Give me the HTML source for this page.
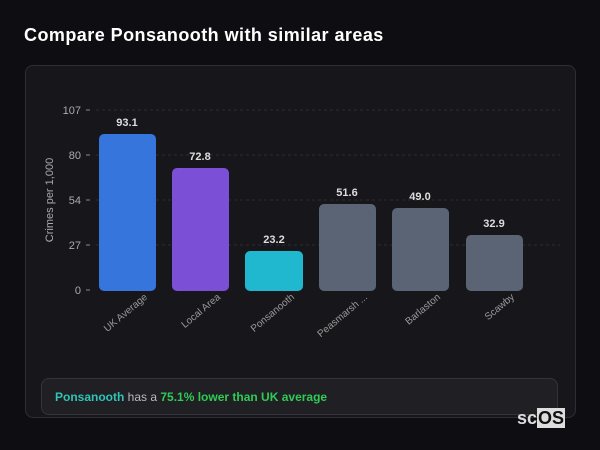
<!DOCTYPE html>
<html><head><style>
body{margin:0;width:600px;height:450px;background:#0e0e12;font-family:"Liberation Sans",sans-serif;overflow:hidden;position:relative}
h1{position:absolute;left:24px;top:25px;margin:0;font-size:18px;color:#fff;font-weight:bold;letter-spacing:0.45px}
.card{position:absolute;left:25px;top:65px;width:549px;height:351px;background:#17171b;border:1px solid #2e2e34;border-radius:8px}
.note{position:absolute;left:41px;top:378px;width:517px;height:37px;background:#1f1f24;border:1px solid #34343a;border-radius:8px;box-sizing:border-box;font-size:12px;line-height:37px;padding-left:13px;color:#bbb}
.note b{font-weight:bold}
.logo{position:absolute;left:517px;top:408px;font-size:18px;color:#ddd;font-weight:bold}
.logo span{background:#ddd;color:#111;padding:0 1px}
</style></head><body>
<h1>Compare Ponsanooth with similar areas</h1>
<div class="card"></div>
<svg width="600" height="450" style="position:absolute;left:0;top:0" font-family="Liberation Sans, sans-serif">
<g stroke="#2c2c32" stroke-dasharray="3,3">
<line x1="96" x2="560" y1="110" y2="110"/><line x1="96" x2="560" y1="155" y2="155"/><line x1="96" x2="560" y1="200" y2="200"/><line x1="96" x2="560" y1="245" y2="245"/>
</g>
<g stroke="#888"><line x1="86" x2="90" y1="110" y2="110"/><line x1="86" x2="90" y1="155" y2="155"/><line x1="86" x2="90" y1="200" y2="200"/><line x1="86" x2="90" y1="245" y2="245"/><line x1="86" x2="90" y1="290" y2="290"/></g>
<g fill="#aaa" font-size="11" text-anchor="end">
<text x="81" y="114">107</text><text x="81" y="159">80</text><text x="81" y="204">54</text><text x="81" y="249">27</text><text x="81" y="294">0</text>
</g>
<text transform="translate(53,200) rotate(-90)" fill="#aaa" font-size="11" text-anchor="middle">Crimes per 1,000</text>
<rect x="99" y="134" width="57" height="157" rx="5" fill="#3575dc"/>
<rect x="172" y="168" width="57" height="123" rx="5" fill="#7b4fd6"/>
<rect x="245" y="251" width="58" height="40" rx="5" fill="#1fb8cf"/>
<rect x="319" y="204" width="57" height="87" rx="5" fill="#5b6475"/>
<rect x="392" y="208" width="57" height="83" rx="5" fill="#5b6475"/>
<rect x="466" y="235" width="57" height="56" rx="5" fill="#5b6475"/>
<g fill="#ddd" font-size="11" font-weight="bold" text-anchor="middle">
<text x="127" y="126">93.1</text><text x="200" y="160">72.8</text><text x="274" y="243">23.2</text><text x="347" y="196">51.6</text><text x="420" y="200">49.0</text><text x="494" y="227">32.9</text>
</g>
<g fill="#999" font-size="10" text-anchor="end">
<text transform="translate(148,298) rotate(-40)">UK Average</text>
<text transform="translate(221,298) rotate(-40)">Local Area</text>
<text transform="translate(295,298) rotate(-40)">Ponsanooth</text>
<text transform="translate(368,298) rotate(-40)">Peasmarsh ...</text>
<text transform="translate(441,298) rotate(-40)">Barlaston</text>
<text transform="translate(515,298) rotate(-40)">Scawby</text>
</g>
</svg>
<div class="note"><b style="color:#2ec4b6">Ponsanooth</b> has a <b style="color:#2ecc55">75.1% lower than UK average</b></div>
<div class="logo">sc<span>OS</span></div>
</body></html>
